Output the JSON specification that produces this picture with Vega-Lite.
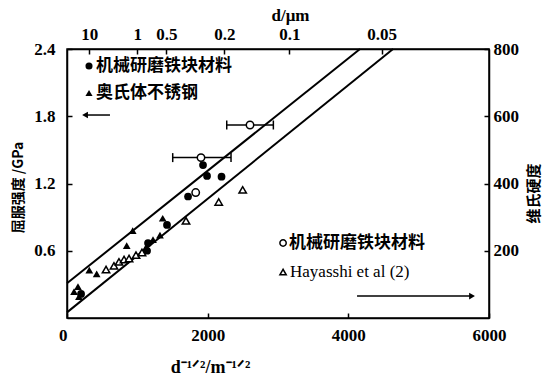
{
  "$schema": "https://vega.github.io/schema/vega-lite/v6.json",
  "width": 422,
  "height": 269,
  "autosize": {"type": "none"},
  "padding": {"left": 67, "top": 49, "right": 59, "bottom": 57},
  "background": "white",
  "config": {
    "view": {"stroke": "black", "strokeWidth": 1.5},
    "axis": {
      "grid": false,
      "domainColor": "black",
      "domainWidth": 1.5,
      "tickColor": "black",
      "tickWidth": 1.5,
      "tickSize": -5,
      "labelColor": "black",
      "titleColor": "black",
      "labelFont": "Liberation Serif",
      "labelFontWeight": "bold",
      "labelFontSize": 17,
      "titleFontWeight": "bold"
    }
  },
  "datasets": {
    "lines": [
      {"line": "upper", "x": 0, "y": 0.31},
      {"line": "upper", "x": 4166, "y": 2.4},
      {"line": "lower", "x": 0, "y": 0.05},
      {"line": "lower", "x": 4636, "y": 2.4}
    ],
    "ys": [
      {"type": "circle", "x": 1934, "y": 1.365},
      {"type": "circle", "x": 1991, "y": 1.267},
      {"type": "circle", "x": 2197, "y": 1.261},
      {"type": "circle", "x": 1721, "y": 1.084},
      {"type": "circle", "x": 1422, "y": 0.83},
      {"type": "circle", "x": 1138, "y": 0.6},
      {"type": "circle", "x": 1152, "y": 0.669},
      {"type": "circle", "x": 200, "y": 0.215},
      {"type": "triangle", "x": 1361, "y": 0.89},
      {"type": "triangle", "x": 934, "y": 0.78},
      {"type": "triangle", "x": 849, "y": 0.645},
      {"type": "triangle", "x": 422, "y": 0.393},
      {"type": "triangle", "x": 317, "y": 0.428},
      {"type": "triangle", "x": 1322, "y": 0.74},
      {"type": "triangle", "x": 1223, "y": 0.7},
      {"type": "triangle", "x": 1123, "y": 0.63},
      {"type": "triangle", "x": 156, "y": 0.28},
      {"type": "triangle", "x": 100, "y": 0.235},
      {"type": "triangle", "x": 170, "y": 0.19}
    ],
    "hv": [
      {"type": "circle", "x": 2602, "hv": 574},
      {"type": "circle", "x": 1905, "hv": 477},
      {"type": "circle", "x": 1830, "hv": 373},
      {"type": "triangle", "x": 555, "hv": 144},
      {"type": "triangle", "x": 668, "hv": 155},
      {"type": "triangle", "x": 739, "hv": 167},
      {"type": "triangle", "x": 811, "hv": 174},
      {"type": "triangle", "x": 882, "hv": 177},
      {"type": "triangle", "x": 981, "hv": 187},
      {"type": "triangle", "x": 1066, "hv": 195},
      {"type": "triangle", "x": 1692, "hv": 289},
      {"type": "triangle", "x": 2157, "hv": 345},
      {"type": "triangle", "x": 2498, "hv": 381}
    ],
    "errs": [
      {"xmin": 2271, "xmax": 2934, "hv": 574},
      {"xmin": 1503, "xmax": 2332, "hv": 477}
    ],
    "legsymFilled": [
      {"type": "circle", "x": 313, "y": 2.248},
      {"type": "triangle", "x": 313, "y": 2.007}
    ],
    "legsymOpen": [
      {"type": "circle", "x": 3072, "y": 0.669},
      {"type": "triangle", "x": 3072, "y": 0.41}
    ],
    "legtextCJK": [
      {"label": "机械研磨铁块材料", "x": 412, "y": 2.248},
      {"label": "奥氏体不锈钢", "x": 412, "y": 2.007},
      {"label": "机械研磨铁块材料", "x": 3157, "y": 0.669}
    ],
    "legtextLatin": [
      {"label": "Hayasshi et al (2)", "x": 3171, "y": 0.41}
    ],
    "arrows": [
      {"x": 256, "x2": 611, "y": 1.811, "type": "left", "hx": 256},
      {"x": 4124, "x2": 5759, "y": 0.196, "type": "right", "hx": 5759}
    ]
  },
  "layer": [
    {
      "layer": [
        {
          "data": {"name": "lines"},
          "mark": {"type": "line", "color": "black", "strokeWidth": 2},
          "encoding": {
            "x": {
              "field": "x", "type": "quantitative",
              "scale": {"domain": [0, 6000], "nice": false},
              "axis": {
                "orient": "bottom",
                "values": [0, 2000, 4000, 6000],
                "format": "d",
                "labelFont": "Liberation Serif",
                "labelFontWeight": "bold",
                "labelFontSize": 17,
                "labelFlush": false,
                "labelAlign": {"condition": {"test": "datum.value === 0", "value": "right"}, "value": "center"},
                "labelPadding": 14,
                "title": "d⁻¹ᐟ²/m⁻¹ᐟ²",
                "titleFont": "Liberation Serif",
                "titleFontSize": 18,
                "titleX": 143,
                "titleY": 49,
                "titleAlign": "center",
                "titleBaseline": "middle"
              }
            },
            "y": {
              "field": "y", "type": "quantitative",
              "scale": {"domain": [0, 2.4], "nice": false},
              "axis": {
                "orient": "left",
                "values": [0.6, 1.2, 1.8, 2.4],
                "format": ".1f",
                "labelFont": "Liberation Serif",
                "labelFontWeight": "bold",
                "labelFontSize": 17,
                "labelFlush": false,
                "labelPadding": 17,
                "title": "屈服强度 /GPa",
                "titleFont": "Noto Sans CJK SC",
                "titleFontSize": 14,
                "titleAngle": 270,
                "titleX": -49,
                "titleY": 138,
                "titleAlign": "center",
                "titleBaseline": "middle"
              }
            },
            "detail": {"field": "line"}
          }
        },
        {
          "data": {"name": "ys"},
          "mark": {"type": "point", "filled": true, "color": "black", "size": 60, "opacity": 1},
          "encoding": {
            "x": {"field": "x", "type": "quantitative"},
            "y": {"field": "y", "type": "quantitative"},
            "shape": {"field": "type", "type": "nominal", "scale": {"domain": ["circle", "triangle", "left", "right"], "range": ["circle", "triangle-up", "triangle-left", "triangle-right"]}, "legend": null}
          }
        },
        {
          "data": {"name": "legsymFilled"},
          "mark": {"type": "point", "filled": true, "color": "black", "size": 50, "opacity": 1},
          "encoding": {
            "x": {"field": "x", "type": "quantitative"},
            "y": {"field": "y", "type": "quantitative"},
            "shape": {"field": "type", "type": "nominal", "legend": null}
          }
        },
        {
          "data": {"name": "legsymOpen"},
          "mark": {"type": "point", "filled": true, "fill": "white", "stroke": "black", "strokeWidth": 1.5, "size": 40, "opacity": 1},
          "encoding": {
            "x": {"field": "x", "type": "quantitative"},
            "y": {"field": "y", "type": "quantitative"},
            "shape": {"field": "type", "type": "nominal", "legend": null}
          }
        },
        {
          "data": {"name": "legtextCJK"},
          "mark": {"type": "text", "align": "left", "baseline": "middle", "font": "Noto Sans CJK SC", "fontWeight": "bold", "fontSize": 17, "color": "black"},
          "encoding": {
            "x": {"field": "x", "type": "quantitative"},
            "y": {"field": "y", "type": "quantitative"},
            "text": {"field": "label"}
          }
        },
        {
          "data": {"name": "legtextLatin"},
          "mark": {"type": "text", "align": "left", "baseline": "middle", "font": "Liberation Serif", "fontSize": 17, "color": "black"},
          "encoding": {
            "x": {"field": "x", "type": "quantitative"},
            "y": {"field": "y", "type": "quantitative"},
            "text": {"field": "label"}
          }
        },
        {
          "data": {"name": "arrows"},
          "mark": {"type": "rule", "color": "black", "strokeWidth": 1.5},
          "encoding": {
            "x": {"field": "x", "type": "quantitative"},
            "x2": {"field": "x2"},
            "y": {"field": "y", "type": "quantitative"}
          }
        },
        {
          "data": {"name": "arrows"},
          "mark": {"type": "point", "filled": true, "color": "black", "size": 45, "opacity": 1},
          "encoding": {
            "x": {"field": "hx", "type": "quantitative"},
            "y": {"field": "y", "type": "quantitative"},
            "shape": {"field": "type", "type": "nominal", "legend": null}
          }
        }
      ]
    },
    {
      "layer": [
        {
          "data": {"name": "errs"},
          "mark": {"type": "rule", "color": "black", "strokeWidth": 1.5},
          "encoding": {
            "x": {"field": "xmin", "type": "quantitative"},
            "x2": {"field": "xmax"},
            "y": {"field": "hv", "type": "quantitative", "scale": {"domain": [0, 800], "nice": false}}
          }
        },
        {
          "data": {"name": "errs"},
          "mark": {"type": "tick", "orient": "vertical", "color": "black", "size": 9, "thickness": 1.5, "opacity": 1},
          "encoding": {
            "x": {"field": "xmin", "type": "quantitative"},
            "y": {"field": "hv", "type": "quantitative"}
          }
        },
        {
          "data": {"name": "errs"},
          "mark": {"type": "tick", "orient": "vertical", "color": "black", "size": 9, "thickness": 1.5, "opacity": 1},
          "encoding": {
            "x": {"field": "xmax", "type": "quantitative"},
            "y": {"field": "hv", "type": "quantitative"}
          }
        },
        {
          "data": {"name": "hv"},
          "mark": {"type": "point", "filled": true, "fill": "white", "stroke": "black", "strokeWidth": 1.5, "size": 55, "opacity": 1},
          "encoding": {
            "x": {
              "field": "x", "type": "quantitative",
              "axis": {
                "orient": "top",
                "values": [316.23, 1000, 1414.21, 2236.07, 3162.28, 4472.14],
                "labelExpr": "format(1e6/(datum.value*datum.value), '.2~g')",
                "labelFont": "Liberation Serif",
                "labelFontWeight": "bold",
                "labelFontSize": 17,
                "labelFlush": false,
                "labelPadding": 11,
                "title": "d/μm",
                "titleFont": "Liberation Serif",
                "titleFontSize": 17,
                "titleX": 223,
                "titleY": -34,
                "titleAlign": "center",
                "titleBaseline": "middle"
              }
            },
            "y": {
              "field": "hv", "type": "quantitative",
              "axis": {
                "orient": "right",
                "values": [200, 400, 600, 800],
                "format": "d",
                "labelFont": "Liberation Serif",
                "labelFontWeight": "bold",
                "labelFontSize": 17,
                "labelFlush": false,
                "labelPadding": 9,
                "title": "维氏硬度",
                "titleFont": "Noto Sans CJK SC",
                "titleFontSize": 15,
                "titleAngle": 270,
                "titleX": 44,
                "titleY": 144,
                "titleAlign": "center",
                "titleBaseline": "middle"
              }
            },
            "shape": {"field": "type", "type": "nominal", "scale": {"domain": ["circle", "triangle"], "range": ["circle", "triangle-up"]}, "legend": null}
          }
        }
      ]
    }
  ],
  "resolve": {"scale": {"y": "independent"}}
}
